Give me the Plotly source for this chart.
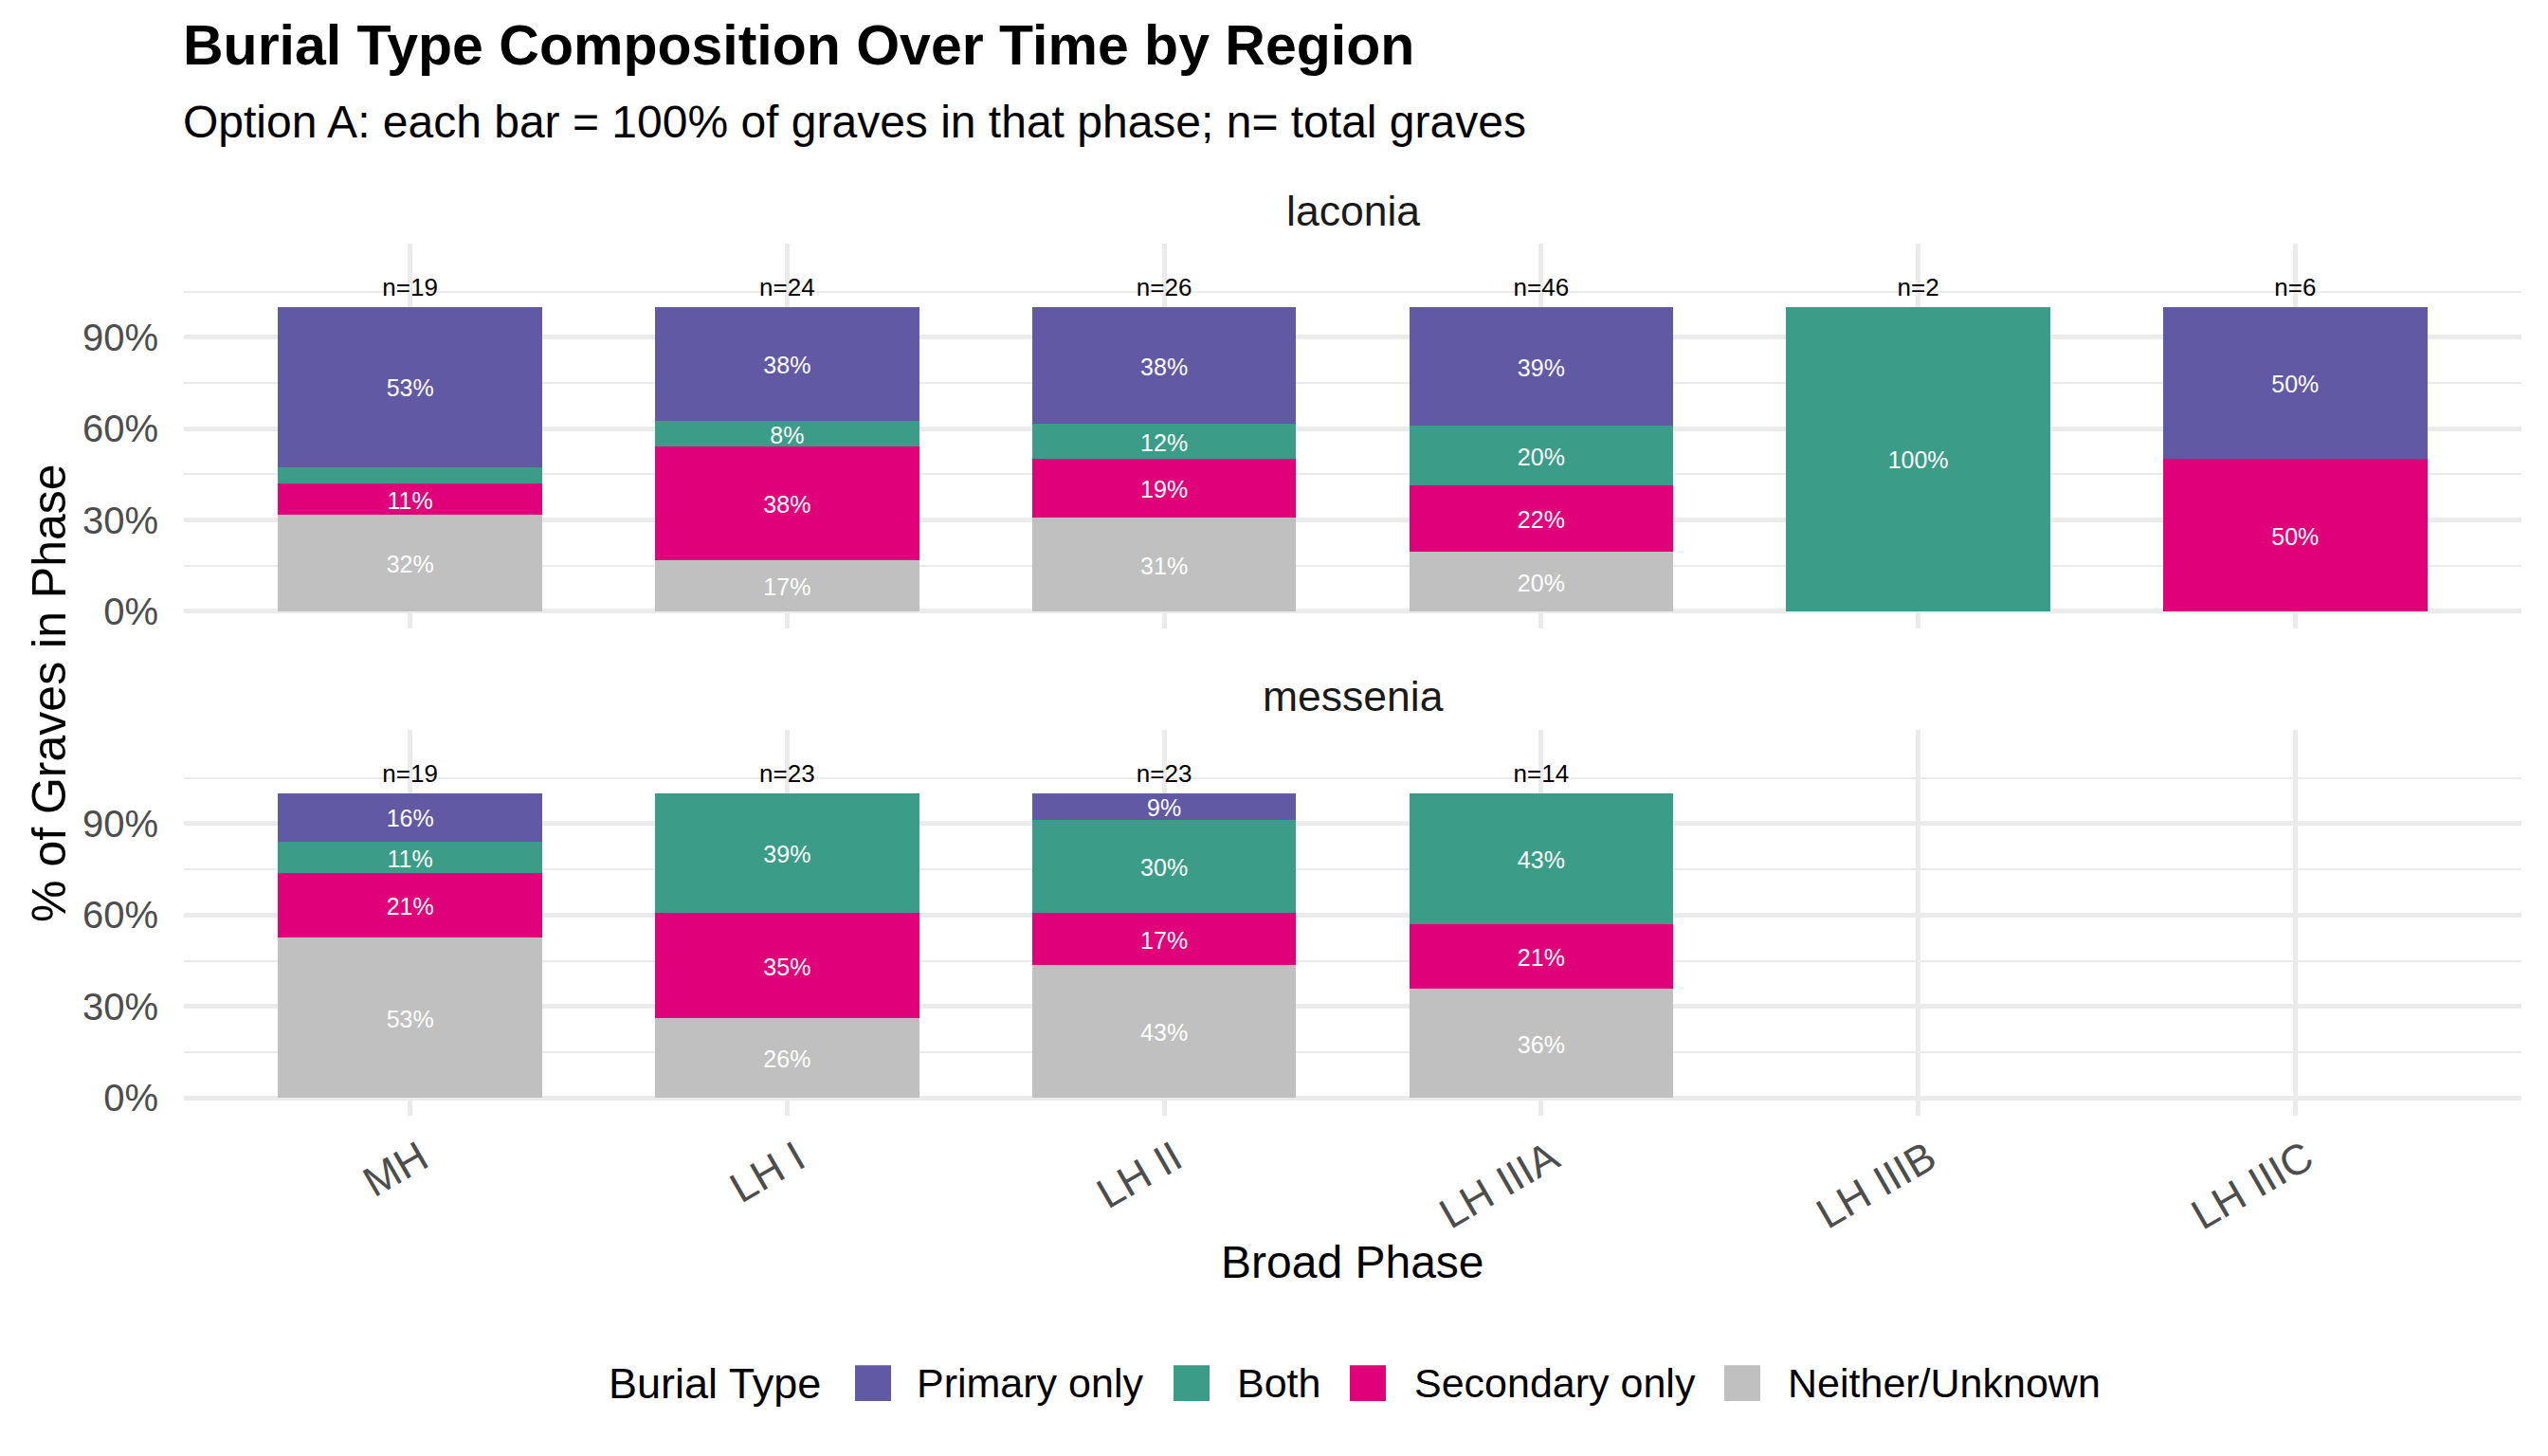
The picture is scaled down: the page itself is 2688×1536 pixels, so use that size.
import plotly.graph_objects as go

# ---------------- data (grave counts) ----------------
phases = ["MH", "LH I", "LH II", "LH IIIA", "LH IIIB", "LH IIIC"]
regions = ["laconia", "messenia"]
burial_types = ["Primary only", "Both", "Secondary only", "Neither/Unknown"]
type_colors = ["#6159A4", "#3B9D88", "#E0007A", "#C0C0C0"]

laconia_primary = [10, 9, 10, 18, 0, 3]
laconia_both = [1, 2, 3, 9, 2, 0]
laconia_secondary = [2, 9, 5, 10, 0, 3]
laconia_neither = [6, 4, 8, 9, 0, 0]

messenia_primary = [3, 0, 2, 0, 0, 0]
messenia_both = [2, 9, 7, 6, 0, 0]
messenia_secondary = [4, 8, 4, 3, 0, 0]
messenia_neither = [10, 6, 10, 5, 0, 0]

y_tick_vals = [0, 0.3, 0.6, 0.9]
y_tick_text = ["0%", "30%", "60%", "90%"]
y_minor_vals = [0.15, 0.45, 0.75, 1.05]

counts = {
    "laconia": {"Primary only": laconia_primary, "Both": laconia_both,
                "Secondary only": laconia_secondary, "Neither/Unknown": laconia_neither},
    "messenia": {"Primary only": messenia_primary, "Both": messenia_both,
                 "Secondary only": messenia_secondary, "Neither/Unknown": messenia_neither},
}

# ---------------- geometry ----------------
W, H = 2688, 1536
FONT = "Liberation Sans, Arial, sans-serif"


def fx(px):
    return px / W


def fy(py):
    return 1 - py / H


PANEL_L, PANEL_R = 194, 2660
panel_px = {"laconia": (257.5, 664.7), "messenia": (771.7, 1178.9)}
strip_y = {"laconia": 223, "messenia": 735.5}
YRANGE = [-0.0575, 1.2075]
GRID = "#EBEBEB"
TEXT_NUDGE = 0.012   # small downward nudge so text sits centred like the reference
N_LABEL_Y = 1.057

fig = go.Figure()

stack_order = ["Neither/Unknown", "Secondary only", "Both", "Primary only"]
color_of = dict(zip(burial_types, type_colors))

for ri, region in enumerate(regions):
    sfx = "" if ri == 0 else str(ri + 1)
    xa, ya = "x" + sfx, "y" + sfx
    data = counts[region]
    totals = [sum(data[t][i] for t in burial_types) for i in range(len(phases))]
    cum = [0.0] * len(phases)
    for t in stack_order:
        xs, ys, lx, ly, lt = [], [], [], [], []
        for i, ph in enumerate(phases):
            if totals[i] == 0 or data[t][i] == 0:
                continue
            share = data[t][i] / totals[i]
            xs.append(ph)
            ys.append(share)
            if share >= 0.06:
                lx.append(ph)
                ly.append(cum[i] + share / 2 - TEXT_NUDGE)
                lt.append(f"{round(share * 100)}%")
            cum[i] += share
        fig.add_trace(go.Bar(
            x=xs, y=ys, width=0.7, marker=dict(color=color_of[t], line=dict(width=0)),
            name=t, xaxis=xa, yaxis=ya, showlegend=False, hoverinfo="skip"))
        fig.add_trace(go.Scatter(
            x=lx, y=ly, text=lt, mode="text", xaxis=xa, yaxis=ya,
            textposition="middle center",
            textfont=dict(family=FONT, size=25, color="white"),
            showlegend=False, hoverinfo="skip"))
    nx = [ph for i, ph in enumerate(phases) if totals[i] > 0]
    nt = [f"n={totals[i]}" for i in range(len(phases)) if totals[i] > 0]
    fig.add_trace(go.Scatter(
        x=nx, y=[N_LABEL_Y] * len(nx), text=nt, mode="text", xaxis=xa, yaxis=ya,
        textposition="middle center",
        textfont=dict(family=FONT, size=26, color="black"),
        showlegend=False, hoverinfo="skip"))

xaxis_common = dict(
    type="category", categoryorder="array", categoryarray=phases,
    range=[-0.6, 5.6], domain=[fx(PANEL_L), fx(PANEL_R)],
    showgrid=True, gridcolor=GRID, gridwidth=4.5, zeroline=False, showline=False,
    ticks="", fixedrange=True,
    tickfont=dict(family=FONT, size=44.5, color="#4D4D4D"),
)
yaxis_common = dict(
    range=YRANGE, tickmode="array", tickvals=y_tick_vals, ticktext=y_tick_text,
    showgrid=True, gridcolor=GRID, gridwidth=4.5, zeroline=False, showline=False,
    ticks="", ticklabelstandoff=26,
    minor=dict(tickmode="array", tickvals=y_minor_vals, showgrid=True,
               gridcolor=GRID, gridwidth=2.3, ticks=""),
    tickfont=dict(family=FONT, size=40, color="#4D4D4D"),
)

fig.update_layout(
    xaxis=dict(xaxis_common, anchor="y", showticklabels=False),
    xaxis2=dict(xaxis_common, anchor="y2", showticklabels=True, tickangle=-30,
                ticklabelstandoff=10, ticklabelshift=11),
    yaxis=dict(yaxis_common, anchor="x",
               domain=[fy(panel_px["laconia"][1]), fy(panel_px["laconia"][0])]),
    yaxis2=dict(yaxis_common, anchor="x2",
                domain=[fy(panel_px["messenia"][1]), fy(panel_px["messenia"][0])]),
    barmode="stack", bargap=0.3,
    width=W, height=H, autosize=False,
    margin=dict(l=0, r=0, t=0, b=0),
    paper_bgcolor="white", plot_bgcolor="white",
    font=dict(family=FONT, color="black"),
    showlegend=False,
)

ann = []
ann.append(dict(text="Burial Type Composition Over Time by Region", x=fx(191), y=fy(48),
                xref="paper", yref="paper", xanchor="left", yanchor="middle", showarrow=False,
                font=dict(family=FONT, size=59, color="black", weight="bold")))
ann.append(dict(text="Option A: each bar = 100% of graves in that phase; n= total graves",
                x=fx(191), y=fy(128.6), xref="paper", yref="paper", xanchor="left",
                yanchor="middle", showarrow=False,
                font=dict(family=FONT, size=48, color="black")))
for region in regions:
    ann.append(dict(text=region, x=fx((PANEL_L + PANEL_R) / 2), y=fy(strip_y[region]),
                    xref="paper", yref="paper", xanchor="center", yanchor="middle",
                    showarrow=False, font=dict(family=FONT, size=44.5, color="#1A1A1A")))
ann.append(dict(text="Broad Phase", x=fx((PANEL_L + PANEL_R) / 2), y=fy(1334),
                xref="paper", yref="paper", xanchor="center", yanchor="middle",
                showarrow=False, font=dict(family=FONT, size=48, color="black")))
ann.append(dict(text="% of Graves in Phase", x=fx(51.4), y=fy(732), textangle=-90,
                xref="paper", yref="paper", xanchor="center", yanchor="middle",
                showarrow=False, font=dict(family=FONT, size=50, color="black")))

# legend (drawn manually so keys match the reference size)
leg_y0, leg_y1 = 1443, 1481
leg_mid = (leg_y0 + leg_y1) / 2
ann.append(dict(text="Burial Type", x=fx(640), y=fy(leg_mid), xref="paper", yref="paper",
                xanchor="left", yanchor="middle", showarrow=False,
                font=dict(family=FONT, size=45, color="black")))
key_x = [902, 1238, 1424, 1819]
text_x = [965, 1303, 1490, 1884]
shapes = []
for t, c, kx, tx in zip(burial_types, type_colors, key_x, text_x):
    shapes.append(dict(type="rect", xref="paper", yref="paper",
                       x0=fx(kx), x1=fx(kx + 38), y0=fy(leg_y1), y1=fy(leg_y0),
                       fillcolor=c, line=dict(width=0)))
    ann.append(dict(text=t, x=fx(tx), y=fy(leg_mid), xref="paper", yref="paper",
                    xanchor="left", yanchor="middle", showarrow=False,
                    font=dict(family=FONT, size=43, color="black")))

fig.update_layout(annotations=ann, shapes=shapes)

fig.write_html("out.html", post_script="document.body.style.margin='0';",
               config={"displayModeBar": False})
